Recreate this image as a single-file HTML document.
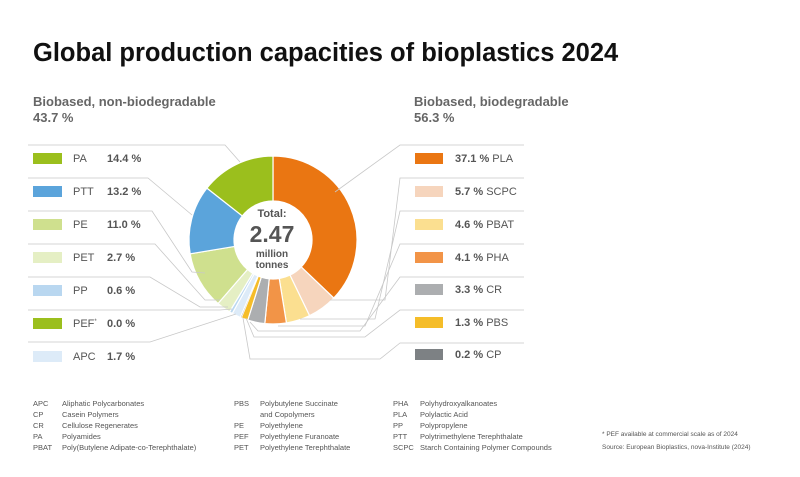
<!DOCTYPE html>
<html><head><meta charset="utf-8"><style>
body{margin:0;background:#fff;width:800px;height:472px;overflow:hidden;font-family:"Liberation Sans",Arial,sans-serif}
</style></head><body>
<svg width="800" height="472" viewBox="0 0 800 472" xmlns="http://www.w3.org/2000/svg" font-family="Liberation Sans, Arial, sans-serif">
<text x="33" y="61" font-size="25.5" font-weight="bold" fill="#111">Global production capacities of bioplastics 2024</text>
<g fill="#666" font-size="13" font-weight="bold">
<text x="33" y="106">Biobased, non-biodegradable</text><text x="33" y="122">43.7 %</text>
<text x="414" y="106">Biobased, biodegradable</text><text x="414" y="122">56.3 %</text>
</g>
<g stroke="#fff" stroke-width="1.2">
<path d="M273,156 A84,84 0 0 1 333.76,298.01 L301.21,266.93 A39,39 0 0 0 273,201 Z" fill="#ea7612"/>
<path d="M333.76,298.01 A84,84 0 0 1 309.52,315.64 L289.96,275.12 A39,39 0 0 0 301.21,266.93 Z" fill="#f6d5bd"/>
<path d="M309.52,315.64 A84,84 0 0 1 286.41,322.92 L279.23,278.50 A39,39 0 0 0 289.96,275.12 Z" fill="#fbdf90"/>
<path d="M286.41,322.92 A84,84 0 0 1 264.82,323.60 L269.20,278.81 A39,39 0 0 0 279.23,278.50 Z" fill="#f29447"/>
<path d="M264.82,323.60 A84,84 0 0 1 247.77,320.12 L261.28,277.20 A39,39 0 0 0 269.20,278.81 Z" fill="#acaeb0"/>
<path d="M247.77,320.12 A84,84 0 0 1 241.30,317.79 L258.28,276.12 A39,39 0 0 0 261.28,277.20 Z" fill="#f5bd29"/>
<path d="M241.30,317.79 A84,84 0 0 1 240.34,317.39 L257.84,275.93 A39,39 0 0 0 258.28,276.12 Z" fill="#7d8184" stroke-width="0.4"/>
<path d="M240.34,317.39 A84,84 0 0 1 232.26,313.46 L254.09,274.11 A39,39 0 0 0 257.84,275.93 Z" fill="#ddebf8"/>
<path d="M232.26,313.46 A84,84 0 0 1 229.53,311.87 L252.82,273.37 A39,39 0 0 0 254.09,274.11 Z" fill="#b9d7f0"/>
<path d="M229.53,311.87 A84,84 0 0 1 218.00,303.50 L247.47,269.48 A39,39 0 0 0 252.82,273.37 Z" fill="#e5efc4"/>
<path d="M218.00,303.50 A84,84 0 0 1 190.14,253.81 L234.53,246.41 A39,39 0 0 0 247.47,269.48 Z" fill="#cfe08e"/>
<path d="M190.14,253.81 A84,84 0 0 1 206.93,188.13 L242.32,215.92 A39,39 0 0 0 234.53,246.41 Z" fill="#5ba4db"/>
<path d="M206.93,188.13 A84,84 0 0 1 273,156 L273,201 A39,39 0 0 0 242.32,215.92 Z" fill="#9bbf1d"/>
</g>
<g fill="none" stroke="#c8c8c8" stroke-width="0.8">
<polyline points="28,145 225,145 240,162"/>
<polyline points="28,178 148,178 192,215"/>
<polyline points="28,211 152,211 192,272 205,273"/>
<polyline points="28,244 155,244 205,300 220,300"/>
<polyline points="28,277 150,277 200,307 228,307"/>
<polyline points="28,310 220,310 232,309"/>
<polyline points="28,342 150,342 236,314"/>
<polyline points="524,145 400,145 335,192"/>
<polyline points="524,178 400,178 385,300 330,300"/>
<polyline points="524,211 400,211 375,319 300,319"/>
<polyline points="524,244 400,244 365,326 278,326"/>
<polyline points="524,277 400,277 360,331 258,331 250,322"/>
<polyline points="524,310 400,310 365,337 254,337 246,318"/>
<polyline points="524,343 400,343 380,359 250,359 243,318"/>
</g>
<g font-size="11" fill="#555">
<rect x="33" y="153" width="29" height="11" fill="#9bbf1d"/><text x="73" y="162">PA</text><text x="107" y="162" font-weight="bold">14.4 %</text>
<rect x="33" y="186" width="29" height="11" fill="#5ba4db"/><text x="73" y="195">PTT</text><text x="107" y="195" font-weight="bold">13.2 %</text>
<rect x="33" y="219" width="29" height="11" fill="#cfe08e"/><text x="73" y="228">PE</text><text x="107" y="228" font-weight="bold">11.0 %</text>
<rect x="33" y="252" width="29" height="11" fill="#e5efc4"/><text x="73" y="261">PET</text><text x="107" y="261" font-weight="bold">2.7 %</text>
<rect x="33" y="285" width="29" height="11" fill="#b9d7f0"/><text x="73" y="294">PP</text><text x="107" y="294" font-weight="bold">0.6 %</text>
<rect x="33" y="318" width="29" height="11" fill="#9bbf1d"/><text x="73" y="327">PEF<tspan font-size="6" dy="-4">*</tspan></text><text x="107" y="327" font-weight="bold">0.0 %</text>
<rect x="33" y="351" width="29" height="11" fill="#ddebf8"/><text x="73" y="360">APC</text><text x="107" y="360" font-weight="bold">1.7 %</text>
<rect x="415" y="153" width="28" height="11" fill="#ea7612"/><text x="455" y="162"><tspan font-weight="bold">37.1 %</tspan> PLA</text>
<rect x="415" y="186" width="28" height="11" fill="#f6d5bd"/><text x="455" y="195"><tspan font-weight="bold">5.7 %</tspan>  SCPC</text>
<rect x="415" y="219" width="28" height="11" fill="#fbdf90"/><text x="455" y="228"><tspan font-weight="bold">4.6 %</tspan>  PBAT</text>
<rect x="415" y="252" width="28" height="11" fill="#f29447"/><text x="455" y="261"><tspan font-weight="bold">4.1 %</tspan>  PHA</text>
<rect x="415" y="284" width="28" height="11" fill="#acaeb0"/><text x="455" y="293"><tspan font-weight="bold">3.3 %</tspan>  CR</text>
<rect x="415" y="317" width="28" height="11" fill="#f5bd29"/><text x="455" y="326"><tspan font-weight="bold">1.3 %</tspan>  PBS</text>
<rect x="415" y="349" width="28" height="11" fill="#7d8184"/><text x="455" y="358"><tspan font-weight="bold">0.2 %</tspan>  CP</text>
</g>
<g text-anchor="middle" fill="#555" font-weight="bold">
<text x="272" y="217" font-size="11">Total:</text>
<text x="272" y="242" font-size="23">2.47</text>
<text x="272" y="257" font-size="10">million</text>
<text x="272" y="268" font-size="10">tonnes</text>
</g>
<g font-size="7.5" fill="#555">
<text x="33" y="406">APC</text><text x="62" y="406">Aliphatic Polycarbonates</text>
<text x="33" y="417">CP</text><text x="62" y="417">Casein Polymers</text>
<text x="33" y="428">CR</text><text x="62" y="428">Cellulose Regenerates</text>
<text x="33" y="439">PA</text><text x="62" y="439">Polyamides</text>
<text x="33" y="450">PBAT</text><text x="62" y="450">Poly(Butylene Adipate-co-Terephthalate)</text>
<text x="234" y="406">PBS</text><text x="260" y="406">Polybutylene Succinate</text>
<text x="260" y="417">and Copolymers</text>
<text x="234" y="428">PE</text><text x="260" y="428">Polyethylene</text>
<text x="234" y="439">PEF</text><text x="260" y="439">Polyethylene Furanoate</text>
<text x="234" y="450">PET</text><text x="260" y="450">Polyethylene Terephthalate</text>
<text x="393" y="406">PHA</text><text x="420" y="406">Polyhydroxyalkanoates</text>
<text x="393" y="417">PLA</text><text x="420" y="417">Polylactic Acid</text>
<text x="393" y="428">PP</text><text x="420" y="428">Polypropylene</text>
<text x="393" y="439">PTT</text><text x="420" y="439">Polytrimethylene Terephthalate</text>
<text x="393" y="450">SCPC</text><text x="420" y="450">Starch Containing Polymer Compounds</text>
<text x="602" y="436" font-size="6.5">* PEF available at commercial scale as of 2024</text>
<text x="602" y="449" font-size="6.5">Source: European Bioplastics, nova-Institute (2024)</text>
</g>
</svg>
</body></html>
